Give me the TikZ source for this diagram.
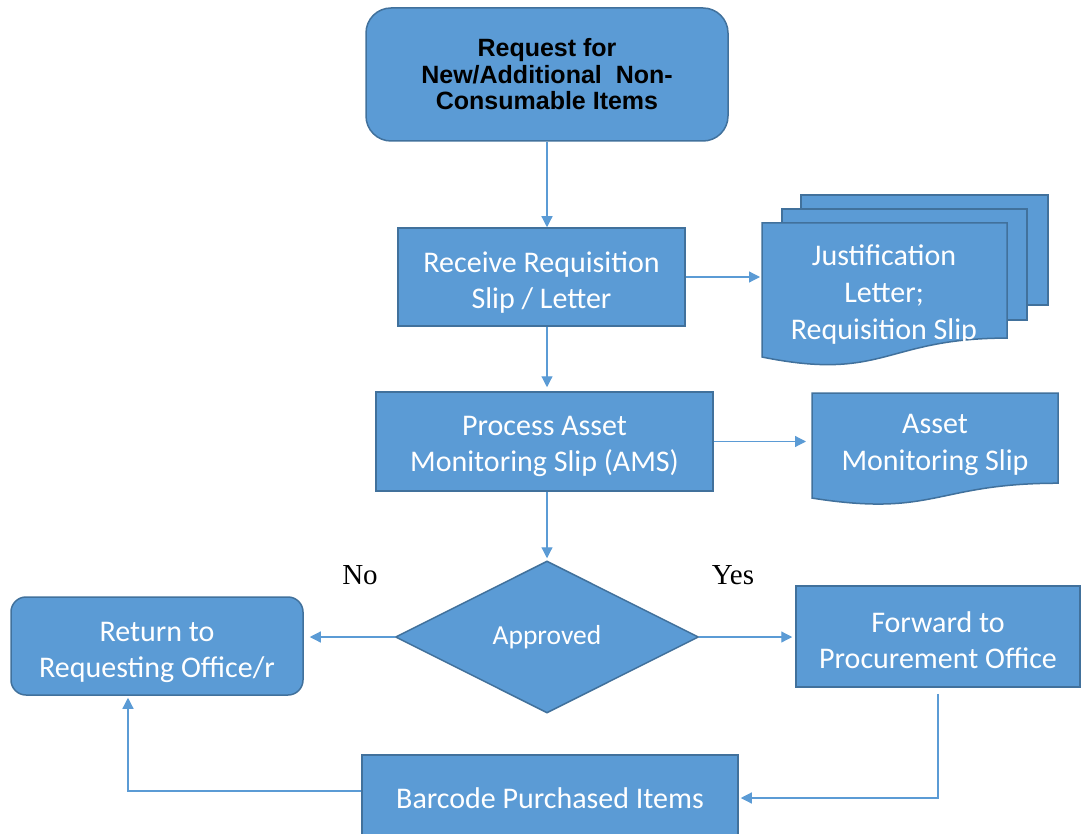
\documentclass[tikz,border=0pt]{standalone}
\usepackage{fontspec}
\setmainfont{Carlito}
\newfontfamily\titlefont{Liberation Sans}
\newfontfamily\labelfont{Liberation Serif}
\usetikzlibrary{arrows.meta,shapes.geometric}
\definecolor{boxfill}{HTML}{5B9BD5}
\definecolor{boxline}{HTML}{41719C}
\definecolor{arrowc}{HTML}{5B9BD5}
% document shape: x1 y1 x2 y2 (nominal bottom)
\newcommand\docshape[4]{%
  \draw[docstyle] (#1,#2) -- (#3,#2) -- (#3,{#2+0.802*(#4-#2)})
    .. controls ({(#1+#3)/2},{#2+0.802*(#4-#2)}) and ({(#1+#3)/2},{#2+1.107*(#4-#2)}) ..
    (#1,{#2+0.934*(#4-#2)}) -- cycle;}
\begin{document}
\begin{tikzpicture}[x=1pt,y=-1pt,
  box/.style={draw=boxline, fill=boxfill, line width=1.5pt, text=white,
    font=\fontsize{30}{36}\selectfont, align=center, inner sep=0pt},
  boxtext/.style={text=white, font=\fontsize{30}{36}\selectfont, align=center, inner sep=0pt},
  docstyle/.style={draw=boxline, fill=boxfill, line width=1.5pt},
  doctext/.style={text=white, font=\fontsize{30}{37}\selectfont, align=center, inner sep=0pt},
  flow/.style={draw=arrowc, line width=1.2pt, -{Triangle[length=11pt,width=11pt]}},
  lbl/.style={font=\labelfont\fontsize{29}{30}\selectfont, inner sep=0pt},
]
\useasboundingbox (0,0) rectangle (1081,834);

% top terminal
\node[box, rounded corners=25pt, minimum width=362pt, minimum height=133pt, text=black,
  font=\titlefont\bfseries\fontsize{25}{26.5}\selectfont] (top) at (547,74.5)
  {Request for\\New/Additional\ \ Non-\\Consumable Items};

% process boxes
\node[box, minimum width=287pt, minimum height=98pt] (recv) at (541.5,277) {};
\node[boxtext] (recvt) at ([yshift=-6pt]recv.center) {Receive Requisition\\Slip / Letter};
\node[box, minimum width=337pt, minimum height=99pt] (proc) at (544.5,441.5) {};
\node[boxtext] (proct) at ([yshift=-5pt]proc.center) {Process Asset\\Monitoring Slip (AMS)};

% multi-document
\draw[docstyle] (801,195) rectangle (1048,305);
\draw[docstyle] (782,209) rectangle (1027,320);
\docshape{762}{223}{1007}{366.5}
\node[doctext] (jdoc) at (884,295) {Justification\\Letter;\\Requisition Slip};
\coordinate (jdocw) at (762,277);

% asset document
\docshape{812}{393}{1058}{505.5}
\node[doctext] (adoc) at (935,445) {Asset\\Monitoring Slip};
\coordinate (adocw) at (812,447);

% decision
\node[box, diamond, minimum width=303pt, minimum height=152pt,
  font=\fontsize{27.5}{30}\selectfont] (dec) at (547,637) {Approved};

\node[box, rounded corners=15pt, minimum width=292pt, minimum height=98pt] (ret) at (157,646) {};
\node[boxtext] (rett) at ([yshift=-6pt]ret.center) {Return to\\Requesting Office/r};
\node[box, minimum width=284pt, minimum height=101pt] (fwd) at (938,636.5) {};
\node[boxtext] (fwdt) at ([yshift=-3.5pt]fwd.center) {Forward to\\Procurement Office};
\node[box, minimum width=376pt, minimum height=86pt] (bar) at (550,798)
  {Barcode Purchased Items};

\node[lbl] (no) at (360,575) {No};
\node[lbl] (yes) at (733,575) {Yes};

% connectors
\coordinate (axis) at (547,0);
\draw[flow] (axis |- top.south) -- (axis |- recv.north);
\draw[flow, shorten >=4pt] (axis |- recv.south) -- (axis |- proc.north);
\draw[flow, shorten >=2pt] (recv.east) -- (recv.east -| jdocw);
\draw[flow, shorten >=6pt] (proc.east) -- (proc.east -| adocw);
\draw[flow, shorten >=2pt] (axis |- proc.south) -- (dec.north);
\draw[flow, shorten >=6pt] (dec.west) -- (dec.west -| ret.east);
\draw[flow, shorten >=3pt] (dec.east) -- (dec.east -| fwd.west);
\draw[flow, shorten <=6pt, shorten >=2pt] (fwd.south) |- (bar.east);
\draw[flow, shorten >=2pt] ([yshift=7pt]bar.west) -| ([xshift=-29pt]ret.south);
\end{tikzpicture}
\end{document}
